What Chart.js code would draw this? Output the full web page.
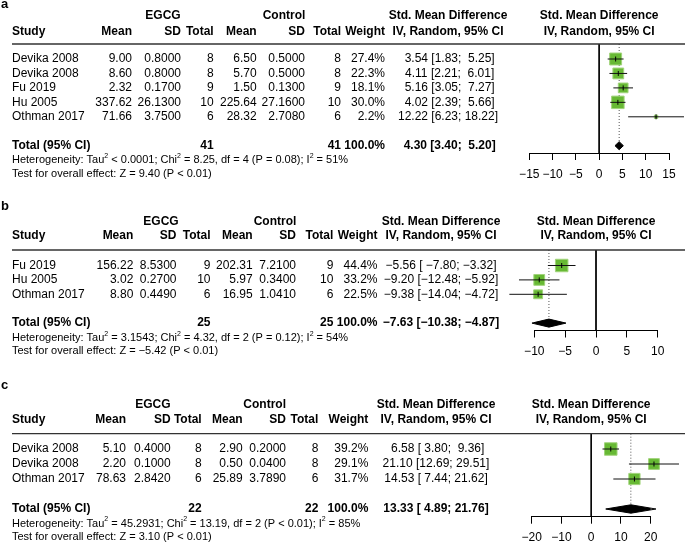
<!DOCTYPE html>
<html><head><meta charset="utf-8">
<script src="https://cdn.jsdelivr.net/npm/chart.js@4/dist/chart.umd.min.js"></script>
<style>
html,body{margin:0;padding:0;background:#fff;width:685px;height:544px;overflow:hidden;position:relative}
canvas{position:absolute;left:0;top:0}
</style></head>
<body>
<canvas id="pa" width="685" height="600"></canvas>
<canvas id="pb" width="685" height="600"></canvas>
<canvas id="pc" width="685" height="600"></canvas>
<script>
// ---------------- Panel a data ----------------
const studiesA = ["Devika 2008", "Devika 2008", "Fu 2019", "Hu 2005", "Othman 2017"];
const eMeanA = [9.00, 8.60, 2.32, 337.62, 71.66];
const eSdA   = [0.8000, 0.8000, 0.1700, 26.1300, 3.7500];
const eNA    = [8, 8, 9, 10, 6];
const cMeanA = [6.50, 5.70, 1.50, 225.64, 28.32];
const cSdA   = [0.5000, 0.5000, 0.1300, 27.1600, 2.7080];
const cNA    = [8, 8, 9, 10, 6];
const weightA = [27.4, 22.3, 18.1, 30.0, 2.2];
const smdA = [3.54, 4.11, 5.16, 4.02, 12.22];
const loA  = [1.83, 2.21, 3.05, 2.39, 6.23];
const hiA  = [5.25, 6.01, 7.27, 5.66, 18.22];
const totalA = [4.30, 3.40, 5.20];     // estimate, lower, upper
const totalNA = [41, 41];
const hetA = ["< 0.0001", "8.25", "4", "= 0.08", "51"];
const testA = ["9.40", "< 0.01"];
const ticksA = [-15, 15, 5];

// ---------------- Panel b data ----------------
const studiesB = ["Fu 2019", "Hu 2005", "Othman 2017"];
const eMeanB = [156.22, 3.02, 8.80];
const eSdB   = [8.5300, 0.2700, 0.4490];
const eNB    = [9, 10, 6];
const cMeanB = [202.31, 5.97, 16.95];
const cSdB   = [7.2100, 0.3400, 1.0410];
const cNB    = [9, 10, 6];
const weightB = [44.4, 33.2, 22.5];
const smdB = [-5.56, -9.20, -9.38];
const loB  = [-7.80, -12.48, -14.04];
const hiB  = [-3.32, -5.92, -4.72];
const totalB = [-7.63, -10.38, -4.87];
const totalNB = [25, 25];
const hetB = ["= 3.1543", "4.32", "2", "= 0.12", "54"];
const testB = ["-5.42", "< 0.01"];
const ticksB = [-10, 10, 5];

// ---------------- Panel c data ----------------
const studiesC = ["Devika 2008", "Devika 2008", "Othman 2017"];
const eMeanC = [5.10, 2.20, 78.63];
const eSdC   = [0.4000, 0.1000, 2.8420];
const eNC    = [8, 8, 6];
const cMeanC = [2.90, 0.50, 25.89];
const cSdC   = [0.2000, 0.0400, 3.7890];
const cNC    = [8, 8, 6];
const weightC = [39.2, 29.1, 31.7];
const smdC = [6.58, 21.10, 14.53];
const loC  = [3.80, 12.69, 7.44];
const hiC  = [9.36, 29.51, 21.62];
const totalC = [13.33, 4.89, 21.76];
const totalNC = [22, 22];
const hetC = ["= 45.2931", "13.19", "2", "< 0.01", "85"];
const testC = ["3.10", "< 0.01"];
const ticksC = [-20, 20, 10];

// ---------------- layout (positions only) ----------------
const FONT = "'Liberation Sans', Arial, Helvetica, sans-serif";
const CANVAS_H = 600;
const layoutA = {label: 4.5, h1: 15.7, h2: 31.7, top: 44, row1: 59, rowH: 14.45, axis: 153, xPx: [529.3, 669],
  cols: {mean: 132, sd: 181, n: 213.7, cmean: 256.7, csd: 305, cn: 341, w: 385, ci: 448, egcg: 163, ctrl: 284}};
const layoutB = {label: 206.7, h1: 221.7, h2: 236, top: 250, row1: 265.5, rowH: 14.4, axis: 330.5, xPx: [534.3, 657.7],
  cols: {mean: 133.3, sd: 176.5, n: 210.5, cmean: 252.7, csd: 296, cn: 333.3, w: 377.5, ci: 441, egcg: 161, ctrl: 275}};
const layoutC = {label: 385, h1: 404.3, h2: 420, top: 433.7, row1: 449, rowH: 15, axis: 516.7, xPx: [531.7, 650.7],
  cols: {mean: 126, sd: 170.7, n: 201.7, cmean: 242.7, csd: 286, cn: 318.3, w: 368.3, ci: 436, egcg: 152.8, ctrl: 264.7}};

const GREEN = '#67b934', GREEN_EDGE = '#a2d47c';
const MINUS = '\u2212';
const fm = (v, d) => v.toFixed(d).replace('-', MINUS);
const pad = (s, n) => { while (s.length < n) s = ' ' + s; return s; };

function ciStrings(est, lo, hi, tot) {
  const E = est.concat([tot[0]]).map(v => fm(v, 2));
  const L = lo.concat([tot[1]]).map(v => fm(v, 2));
  const H = hi.concat([tot[2]]).map(v => fm(v, 2));
  const ne = Math.max(...E.map(s => s.length)), nl = Math.max(...L.map(s => s.length)), nh = Math.max(...H.map(s => s.length));
  return E.map((e, i) => pad(e, ne) + ' [' + pad(L[i], nl) + '; ' + pad(H[i], nh) + ']');
}

function txt(ctx, s, x, y, align, bold, size) {
  ctx.font = (bold ? 'bold ' : '') + (size || 12) + 'px ' + FONT;
  ctx.textAlign = align; ctx.textBaseline = 'middle'; ctx.fillStyle = '#000';
  ctx.fillText(s, x, y);
}
function rich(ctx, segs, x, y, size) {
  let cx = x;
  ctx.textAlign = 'left'; ctx.textBaseline = 'middle'; ctx.fillStyle = '#000';
  for (const [s, sup] of segs) {
    ctx.font = (sup ? Math.round(size * 0.68) : size) + 'px ' + FONT;
    ctx.fillText(s, cx, sup ? y - size * 0.36 : y);
    cx += ctx.measureText(s).width;
  }
}

function makePanel(id, letter, d, L) {
  const n = d.studies.length;
  const totalRow = n + 2;
  const yMin = 1 - (L.row1 - L.top) / L.rowH;
  const yMax = 1 + (L.axis - L.row1) / L.rowH;
  const wmax = Math.max(...d.weight);
  const side = w => 12.5 * Math.sqrt(w / wmax);
  const ci = ciStrings(d.smd, d.lo, d.hi, d.total);
  const dh = 0.28;

  const datasets = [];
  datasets.push({type: 'line', data: [{x: 0, y: yMin}, {x: 0, y: yMax}], borderColor: '#000', borderWidth: 1,
    pointRadius: 0, order: 20, clip: false});
  datasets.push({type: 'line', data: [{x: d.total[0], y: yMin}, {x: d.total[0], y: totalRow}], borderColor: '#555',
    borderWidth: 1, borderDash: [1, 2], pointRadius: 0, order: 19, clip: false});
  datasets.push({type: 'scatter', data: d.smd.map((v, i) => ({x: v, y: i + 1})), pointStyle: 'rect',
    pointRadius: d.weight.map(w => side(w) / Math.SQRT2), pointBackgroundColor: GREEN, pointBorderColor: GREEN_EDGE,
    pointBorderWidth: 1, order: 10, clip: false});
  d.smd.forEach((v, i) => {
    datasets.push({type: 'line', data: [{x: d.lo[i], y: i + 1}, {x: d.hi[i], y: i + 1}], borderColor: '#111',
      borderWidth: 1, pointRadius: 0, order: 5, clip: false});
  });
  datasets.push({type: 'scatter', data: d.smd.map((v, i) => ({x: v, y: i + 1})), pointStyle: 'line',
    pointRotation: 90, pointRadius: 2.5, pointBorderColor: '#000', pointBorderWidth: 1, order: 3, clip: false});
  const t = d.total;
  datasets.push({type: 'line', data: [{x: t[1], y: totalRow}, {x: t[0], y: totalRow - dh}, {x: t[2], y: totalRow},
    {x: t[0], y: totalRow + dh}, {x: t[1], y: totalRow}], fill: 'shape', backgroundColor: '#000', borderColor: '#000',
    borderWidth: 1, pointRadius: 0, tension: 0, order: 1, clip: false});

  const textPlugin = {
    id: 'forestText' + letter,
    afterDraw(chart) {
      const ctx = chart.ctx, ys = chart.scales.y, area = chart.chartArea, C = L.cols;
      ctx.save();
      txt(ctx, letter, 1, L.label, 'left', true, 13);
      txt(ctx, 'EGCG', C.egcg, L.h1, 'center', true);
      txt(ctx, 'Control', C.ctrl, L.h1, 'center', true);
      txt(ctx, 'Study', 12, L.h2, 'left', true);
      txt(ctx, 'Mean', C.mean, L.h2, 'right', true);
      txt(ctx, 'SD', C.sd, L.h2, 'right', true);
      txt(ctx, 'Total', C.n, L.h2, 'right', true);
      txt(ctx, 'Mean', C.cmean, L.h2, 'right', true);
      txt(ctx, 'SD', C.csd, L.h2, 'right', true);
      txt(ctx, 'Total', C.cn, L.h2, 'right', true);
      txt(ctx, 'Weight', C.w, L.h2, 'right', true);
      txt(ctx, 'Std. Mean Difference', C.ci, L.h1, 'center', true);
      txt(ctx, 'IV, Random, 95% CI', C.ci, L.h2, 'center', true);
      const pc = (area.left + area.right) / 2;
      txt(ctx, 'Std. Mean Difference', pc, L.h1, 'center', true);
      txt(ctx, 'IV, Random, 95% CI', pc, L.h2, 'center', true);
      ctx.strokeStyle = '#333'; ctx.lineWidth = 1.3;
      ctx.beginPath(); ctx.moveTo(12, area.top); ctx.lineTo(685, area.top); ctx.stroke();
      d.studies.forEach((s, i) => {
        const y = ys.getPixelForValue(i + 1);
        txt(ctx, s, 12, y, 'left');
        txt(ctx, fm(d.eMean[i], 2), C.mean, y, 'right');
        txt(ctx, fm(d.eSd[i], 4), C.sd, y, 'right');
        txt(ctx, String(d.eN[i]), C.n, y, 'right');
        txt(ctx, fm(d.cMean[i], 2), C.cmean, y, 'right');
        txt(ctx, fm(d.cSd[i], 4), C.csd, y, 'right');
        txt(ctx, String(d.cN[i]), C.cn, y, 'right');
        txt(ctx, fm(d.weight[i], 1) + '%', C.w, y, 'right');
        txt(ctx, ci[i], C.ci, y, 'center');
      });
      const yt = ys.getPixelForValue(totalRow);
      txt(ctx, 'Total (95% CI)', 12, yt, 'left', true);
      txt(ctx, String(d.totalN[0]), C.n, yt, 'right', true);
      txt(ctx, String(d.totalN[1]), C.cn, yt, 'right', true);
      txt(ctx, '100.0%', C.w, yt, 'right', true);
      txt(ctx, ci[n], C.ci, yt, 'center', true);
      const h = d.het;
      rich(ctx, [['Heterogeneity: Tau', 0], ['2', 1], [' ' + h[0] + '; Chi', 0], ['2', 1],
        [' = ' + h[1] + ', df = ' + h[2] + ' (P ' + h[3] + '); I', 0], ['2', 1], [' = ' + h[4] + '%', 0]], 12, yt + 14.5, 11);
      rich(ctx, [['Test for overall effect: Z = ' + d.test[0].replace('-', MINUS) + ' (P ' + d.test[1] + ')', 0]], 12, yt + 28.2, 11);
      ctx.restore();
    }
  };

  return new Chart(document.getElementById(id), {
    type: 'line',
    data: {datasets},
    options: {
      responsive: false, devicePixelRatio: 1, animation: false, events: [],
      layout: {padding: {left: L.xPx[0], right: 685 - L.xPx[1], top: L.top, bottom: CANVAS_H - L.axis - 34}},
      plugins: {legend: {display: false}, tooltip: {enabled: false}},
      scales: {
        x: {type: 'linear', min: d.ticks[0], max: d.ticks[1],
          ticks: {stepSize: d.ticks[2], color: '#000', font: {family: FONT, size: 12}, padding: 7, maxRotation: 0,
            autoSkip: false, callback: v => String(v).replace('-', MINUS)},
          grid: {drawOnChartArea: false, drawTicks: true, tickLength: 7, color: '#000', lineWidth: 1},
          border: {display: true, color: '#000', width: 1},
          afterFit: s => { s.height = 34; }},
        y: {type: 'linear', display: false, min: yMin, max: yMax, reverse: true}
      }
    },
    plugins: [textPlugin]
  });
}

makePanel('pa', 'a', {studies: studiesA, eMean: eMeanA, eSd: eSdA, eN: eNA, cMean: cMeanA, cSd: cSdA, cN: cNA,
  weight: weightA, smd: smdA, lo: loA, hi: hiA, total: totalA, totalN: totalNA, het: hetA, test: testA, ticks: ticksA}, layoutA);
makePanel('pb', 'b', {studies: studiesB, eMean: eMeanB, eSd: eSdB, eN: eNB, cMean: cMeanB, cSd: cSdB, cN: cNB,
  weight: weightB, smd: smdB, lo: loB, hi: hiB, total: totalB, totalN: totalNB, het: hetB, test: testB, ticks: ticksB}, layoutB);
makePanel('pc', 'c', {studies: studiesC, eMean: eMeanC, eSd: eSdC, eN: eNC, cMean: cMeanC, cSd: cSdC, cN: cNC,
  weight: weightC, smd: smdC, lo: loC, hi: hiC, total: totalC, totalN: totalNC, het: hetC, test: testC, ticks: ticksC}, layoutC);
</script>
</body></html>
